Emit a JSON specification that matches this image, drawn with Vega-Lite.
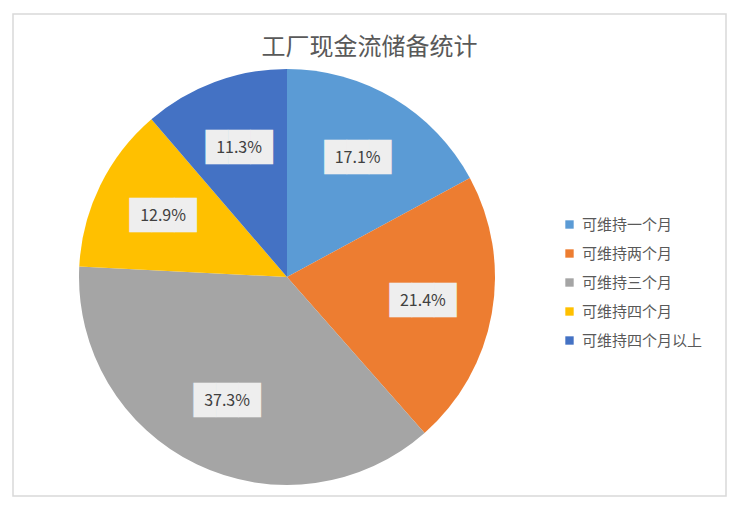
{
  "$schema": "https://vega.github.io/schema/vega-lite/v6.json",
  "width": 713,
  "height": 482,
  "autosize": {"type": "none"},
  "padding": {"left": 13, "top": 14, "right": 11, "bottom": 13},
  "background": "white",
  "view": {"stroke": "#d9d9d9", "strokeWidth": 1.5},
  "config": {
    "view": {"stroke": "#d9d9d9", "strokeWidth": 1.5},
    "font": "Noto Sans CJK SC"
  },
  "title": {
    "text": "工厂现金流储备统计",
    "anchor": "middle",
    "orient": "top",
    "offset": 0,
    "dy": 58,
    "baseline": "middle",
    "fontSize": 24,
    "fontWeight": "normal",
    "color": "#595959",
    "font": "Noto Sans CJK SC"
  },
  "data": {
    "values": [
      {"k": 1, "category": "可维持一个月", "share": 0.171},
      {"k": 2, "category": "可维持两个月", "share": 0.214},
      {"k": 3, "category": "可维持三个月", "share": 0.373},
      {"k": 4, "category": "可维持四个月", "share": 0.129},
      {"k": 5, "category": "可维持四个月以上", "share": 0.113}
    ]
  },
  "encoding": {
    "theta": {"field": "share", "type": "quantitative", "stack": true},
    "order": {"field": "k", "type": "quantitative"}
  },
  "layer": [
    {
      "mark": {"type": "arc", "x": 274, "y": 263, "radius": 208},
      "encoding": {
        "color": {
          "field": "category",
          "type": "nominal",
          "sort": null,
          "scale": {
            "domain": ["可维持一个月", "可维持两个月", "可维持三个月", "可维持四个月", "可维持四个月以上"],
            "range": ["#5B9BD5", "#ED7D31", "#A5A5A5", "#FFC000", "#4472C4"]
          },
          "legend": {
            "title": null,
            "orient": "none",
            "legendX": 549,
            "legendY": 203,
            "symbolType": "square",
            "symbolSize": 70,
            "symbolStrokeWidth": 0,
            "labelFontSize": 15,
            "labelColor": "#595959",
            "labelFont": "Noto Sans CJK SC",
            "labelOffset": 5,
            "rowPadding": 13,
            "labelLimit": 200
          }
        }
      }
    },
    {
      "mark": {
        "type": "text",
        "x": 274,
        "y": 263,
        "radius": 138,
        "text": "███",
        "font": "DejaVu Sans",
        "fontSize": 29,
        "baseline": "middle",
        "align": "center",
        "color": "#eeeeee"
      }
    },
    {
      "mark": {
        "type": "text",
        "x": 274,
        "y": 263,
        "radius": 138,
        "fontSize": 16,
        "baseline": "middle",
        "align": "center",
        "color": "#404040",
        "font": "Noto Sans CJK SC"
      },
      "encoding": {
        "text": {"field": "share", "type": "quantitative", "format": ".1%"}
      }
    }
  ]
}
